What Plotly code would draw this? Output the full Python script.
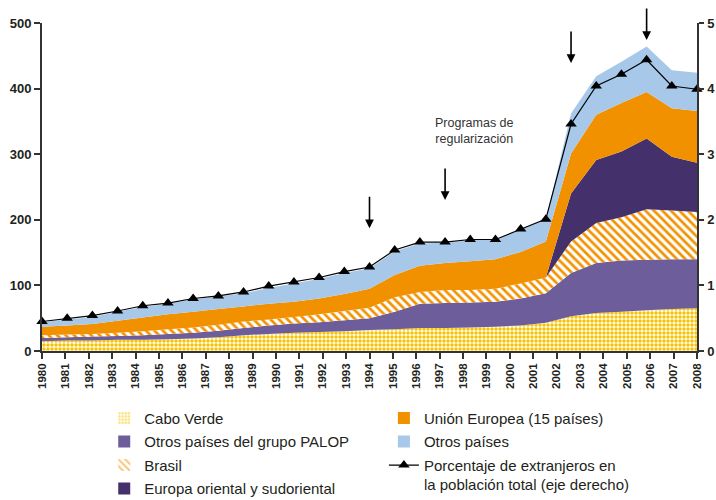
import plotly.graph_objects as go

# ---------------- data ----------------
YEARS = list(range(1980, 2009))
YEAR_LABELS = [str(y) for y in YEARS]
POINTS = list(range(27))  # observations, evenly spread along the period

cabo_verde = [15, 16, 16, 17, 17, 18, 19, 21, 24, 26, 28, 29, 30, 32, 33, 35, 35, 36, 37, 39, 43, 53, 58, 60, 62, 64, 65]
otros_palop = [5, 5, 6, 6, 7, 8, 9, 10, 11, 13, 14, 15, 17, 18, 27, 37, 38, 38, 38, 41, 45, 66, 76, 78, 77, 76, 75]
brasil = [4, 4, 4, 5, 6, 7, 8, 9, 10, 9, 10, 12, 14, 16, 22, 18, 20, 19, 20, 23, 24, 48, 61, 66, 77, 74, 72]
europa_oriental = [0] * 21 + [73, 96, 100, 108, 82, 75]
union_europea = [13, 14, 15, 18, 21, 23, 24, 24, 23, 24, 23, 24, 26, 29, 34, 40, 41, 44, 45, 48, 55, 61, 69, 74, 71, 74, 79]
otros_paises = [7, 9, 11, 14, 16, 16, 19, 19, 20, 24, 28, 30, 32, 31, 36, 34, 31, 32, 30, 34, 33, 61, 59, 63, 69, 58, 58]
porcentaje = [0.45, 0.50, 0.54, 0.61, 0.69, 0.73, 0.80, 0.84, 0.90, 0.99, 1.05, 1.12, 1.21, 1.28, 1.54,
              1.66, 1.66, 1.70, 1.70, 1.86, 2.01, 3.46, 4.04, 4.22, 4.44, 4.04, 3.99]

REGULARIZATION_POINTS = [13, 16, 21, 24]
ARROW_TIPS = [187, 230, 439, 474]

LEFT_TICKS = [0, 100, 200, 300, 400, 500]
RIGHT_TICKS = [0, 1, 2, 3, 4, 5]

# ---------------- styles ----------------
FONT = "Liberation Sans, Arial, sans-serif"
TXT = "#231f20"
C_CABO = "#f7c300"
C_PALOP = "#6d5e9b"
C_BRASIL = "#f39200"
C_EE = "#44306a"
C_UE = "#f29100"
C_OTROS = "#a7c8e9"

series = [
    ("Cabo Verde", cabo_verde, dict(shape=".", fgcolor=C_CABO, bgcolor="white", size=4, solidity=0.6, fillmode="replace"), None, "legend", 1),
    ("Otros países del grupo PALOP", otros_palop, None, C_PALOP, "legend", 2),
    ("Brasil", brasil, dict(shape="\\", fgcolor=C_BRASIL, bgcolor="white", size=6, solidity=0.45, fillmode="replace"), None, "legend", 3),
    ("Europa oriental y sudoriental", europa_oriental, None, C_EE, "legend", 4),
    ("Unión Europea (15 países)", union_europea, None, C_UE, "legend2", 1),
    ("Otros países", otros_paises, None, C_OTROS, "legend2", 2),
]

fig = go.Figure()

# dummy trace so the year axis is drawn
fig.add_trace(go.Scatter(x=YEARS, y=[None] * len(YEARS), xaxis="x", yaxis="y",
                         mode="markers", showlegend=False, hoverinfo="skip"))

for name, vals, pattern, color, _, _ in series:
    kw = dict(fillpattern=pattern) if pattern else dict(fillcolor=color)
    fig.add_trace(go.Scatter(x=POINTS, y=vals, xaxis="x2", yaxis="y", name=name,
                             mode="none", stackgroup="one", showlegend=False, **kw))

# legend proxies (square swatches)
for name, vals, pattern, color, leg, rank in series:
    if pattern:
        marker = dict(color="white", pattern=dict(shape=pattern["shape"], fgcolor=pattern["fgcolor"],
                                                  bgcolor="white", size=pattern["size"],
                                                  solidity=pattern["solidity"]), line=dict(width=0))
    else:
        marker = dict(color=color, line=dict(width=0))
    fig.add_trace(go.Bar(x=[None], y=[None], xaxis="x2", yaxis="y", name=name, marker=marker,
                         legend=leg, legendrank=rank, legendgroup=name, showlegend=True,
                         hoverinfo="skip"))

fig.add_trace(go.Scatter(x=POINTS, y=porcentaje, xaxis="x2", yaxis="y2",
                         name="Porcentaje de extranjeros en<br>la población total (eje derecho)",
                         mode="lines+markers", line=dict(color="black", width=1.2),
                         marker=dict(symbol="triangle-up", size=10, color="black"),
                         legend="legend2", legendrank=3, legendgroup="pct", cliponaxis=False))

for p, tip in zip(REGULARIZATION_POINTS, ARROW_TIPS):
    fig.add_annotation(x=p, y=tip, xref="x2", yref="y", text="", showarrow=True,
                       ax=0, ay=-33, arrowhead=2, arrowsize=1.1, arrowwidth=1.6,
                       arrowcolor="black", standoff=0)

fig.add_annotation(x=17.15, y=335, xref="x2", yref="y", text="Programas de<br>regularización",
                   showarrow=False, font=dict(family=FONT, size=12.5, color="#333"), align="center")

axis_line = "#333333"
fig.update_layout(
    width=716, height=500,
    margin=dict(l=42, r=19, t=23, b=149, autoexpand=False),
    paper_bgcolor="white", plot_bgcolor="white",
    font=dict(family=FONT, color=TXT),
    showlegend=True,
    xaxis=dict(range=[1980, 2008], tickvals=YEARS, ticktext=YEAR_LABELS, tickangle=-90,
               ticks="outside", ticklen=6, tickwidth=1.5, tickcolor=axis_line,
               showline=True, linecolor=axis_line, linewidth=1.5, showgrid=False, zeroline=False,
               tickfont=dict(family=FONT, size=11.5, color=TXT, weight="bold"), anchor="y"),
    xaxis2=dict(range=[0, 26], overlaying="x", visible=False, anchor="y"),
    yaxis=dict(range=[0, 500], tickvals=LEFT_TICKS, ticks="outside", ticklen=6, tickwidth=1.5,
               tickcolor=axis_line, showline=True, linecolor=axis_line, linewidth=2,
               showgrid=False, zeroline=False,
               tickfont=dict(family=FONT, size=13, color=TXT, weight="bold"), anchor="x"),
    yaxis2=dict(range=[0, 5], tickvals=RIGHT_TICKS, ticktext=[str(v) for v in RIGHT_TICKS],
                overlaying="y", side="right", anchor="x",
                ticks="outside", ticklen=5, tickwidth=1.5, tickcolor=axis_line,
                showline=True, linecolor=axis_line, linewidth=1.5, showgrid=False, zeroline=False,
                showticklabels=True, ticklabeloverflow="allow", ticklabelstandoff=1, automargin=False,
                tickfont=dict(family=FONT, size=13, color=TXT, weight="bold")),
    legend=dict(orientation="v", x=0.095, y=-0.155, xanchor="left", yanchor="top",
                bgcolor="rgba(0,0,0,0)", font=dict(family=FONT, size=15, color=TXT),
                tracegroupgap=1, valign="top", itemsizing="constant"),
    legend2=dict(orientation="v", x=0.522, y=-0.155, xanchor="left", yanchor="top",
                 bgcolor="rgba(0,0,0,0)", font=dict(family=FONT, size=15, color=TXT),
                 tracegroupgap=1, valign="top"),
)

fig.write_html("out.html", config={"displayModeBar": False},
               post_script="document.body.style.margin='0';document.body.style.overflow='hidden';")
